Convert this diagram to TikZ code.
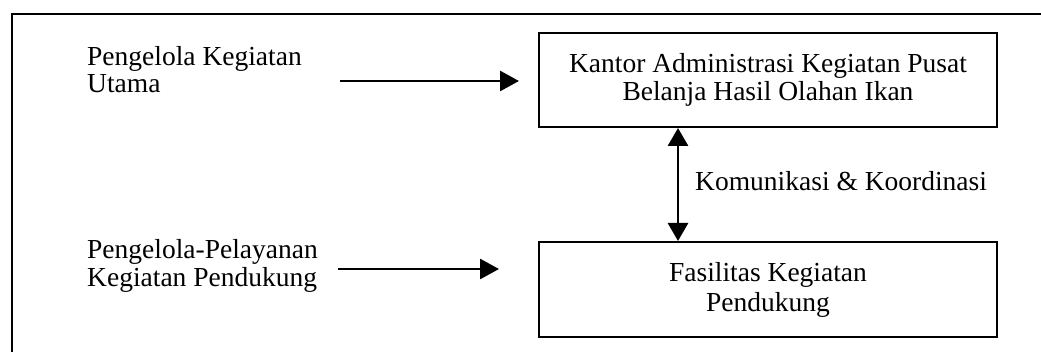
\documentclass[tikz,border=0pt]{standalone}
\usepackage{fontspec}
\setmainfont{Liberation Serif}
\usetikzlibrary{arrows.meta,positioning}
\tikzset{
  unitbox/.style={draw, line width=2pt, minimum width=458pt, minimum height=94pt,
    align=center, inner sep=0pt},
  sidetext/.style={anchor=west, align=left, inner sep=0pt},
  flow/.style={line width=2.8pt, -{Triangle[length=19pt,width=20pt]}},
  twoway/.style={line width=2.8pt, {Triangle[length=18pt,width=20pt]}-{Triangle[length=18pt,width=20pt]}},
  frameline/.style={line width=2pt}
}
\begin{document}
\begin{tikzpicture}[x=1pt,y=-1pt]
  \useasboundingbox (0,0) rectangle (1041,352);
  % outer frame (top and left edges)
  \coordinate (fTL) at (12,14);
  \coordinate (fTR) at (1041,14);
  \coordinate (fBL) at (12,352);
  \draw[frameline] (fBL) -- (fTL) -- (fTR);

  % boxes
  \node[unitbox, font=\fontsize{27.5}{28}\selectfont] (kantor) at (768,80)
    {Kantor Administrasi Kegiatan Pusat\\Belanja Hasil Olahan Ikan};
  \node[unitbox, minimum height=95pt, font=\fontsize{27.5}{30}\selectfont] (fasilitas) at (768,289.5)
    {Fasilitas Kegiatan\\Pendukung};

  % side labels
  \node[sidetext, font=\fontsize{27.5}{27}\selectfont] (utama) at (87,70)
    {Pengelola Kegiatan\\Utama};
  \node[sidetext, font=\fontsize{27.5}{28}\selectfont] (pendukung) at (87,265.5)
    {Pengelola-Pelayanan\\Kegiatan Pendukung};

  % connectors
  \coordinate (a1s) at (340,81);
  \coordinate (a2s) at (338,269);
  \coordinate (vx) at (678,0);
  \draw[flow, shorten >=19pt] (a1s) -- (kantor.west |- a1s);
  \draw[flow, shorten >=39pt] (a2s) -- (fasilitas.west |- a2s);
  \draw[twoway] (kantor.south -| vx) -- (fasilitas.north -| vx);

  \node[sidetext, font=\fontsize{27.5}{30}\selectfont] (komunikasi) at (695,181.5)
    {Komunikasi \& Koordinasi};
\end{tikzpicture}
\end{document}
